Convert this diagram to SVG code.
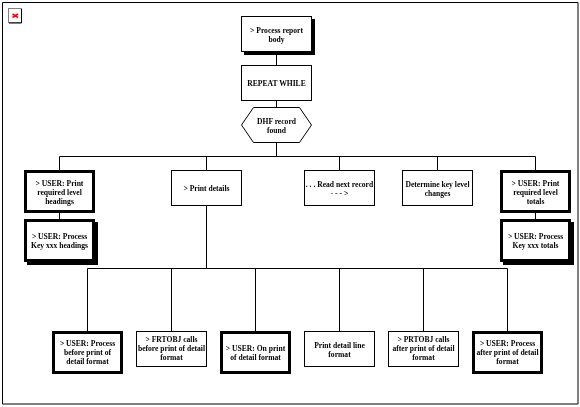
<svg xmlns="http://www.w3.org/2000/svg" width="580" height="407" viewBox="0 0 580 407">
<defs><filter id="soft" x="-5%" y="-30%" width="110%" height="160%" color-interpolation-filters="sRGB"><feGaussianBlur stdDeviation="0.35"/></filter></defs>
<style>
.b{fill:#fff;stroke:#000;stroke-width:1}
.h{fill:#fff;stroke:#000;stroke-width:3}
.s{fill:#000;stroke:none}
.c{fill:none;stroke:#000;stroke-width:1}
text{font-family:"Liberation Serif","Times New Roman",serif;font-size:7.6px;font-weight:bold;text-anchor:middle;fill:#000;filter:url(#soft)}
</style>
<rect width="580" height="407" fill="#fff"/>
<path id="frame" d="M2.5 404V2.5H578V404Z" class="c"/>
<g id="broken-image">
<rect x="8.5" y="8.5" width="13" height="14" fill="#fff" stroke="#808080"/>
<path d="M21.5 9V23H9" class="c"/>
<path d="M12.5 14L18 17.5M18 14L12.5 17.5" fill="none" stroke="#f00" stroke-width="1.6"/>
</g>
<g id="connectors">
<path class="c" d="M276.5 51V65M276.5 100V107M276.5 142V156.5M59.5 156.5H535.5M59.5 156.5V170M206.5 156.5V170M339.5 156.5V170M437.5 156.5V170M535.5 156.5V170M59.5 212V219M535.5 212V219M206.5 205V268.5M87.5 268.5H507.5M87.5 268.5V331M171.5 268.5V331M255.5 268.5V331M339.5 268.5V331M423.5 268.5V331M507.5 268.5V331"/>
</g>
<g id="n1"><rect class="s" x="244" y="19" width="71" height="36"/><rect class="b" x="241.5" y="16.5" width="70" height="35"/><text x="276.5" y="32.5">&gt; Process report</text><text x="276.5" y="41.5">body</text></g>
<g id="n2"><rect class="b" x="241.5" y="65.5" width="70" height="35"/><text x="276.5" y="86">REPEAT WHILE</text></g>
<g id="n3"><polygon class="b" points="253.5,107.5 299.5,107.5 311.5,125 299.5,142.5 253.5,142.5 241.5,125"/><text x="276.5" y="123.5">DHF record</text><text x="276.5" y="132.5">found</text></g>
<g id="n4"><rect class="h" x="25.5" y="171.5" width="68" height="40"/><text x="59.5" y="185.5">&gt; USER: Print</text><text x="59.5" y="194.5">required level</text><text x="59.5" y="203.5">headings</text></g>
<g id="n5"><rect class="s" x="27" y="222" width="71" height="43"/><rect class="h" x="25.5" y="220.5" width="68" height="40"/><text x="59.5" y="239">&gt; USER: Process</text><text x="59.5" y="248">Key xxx headings</text></g>
<g id="n6"><rect class="b" x="171.5" y="170.5" width="70" height="35"/><text x="206.5" y="190.5">&gt; Print details</text></g>
<g id="n7"><rect class="b" x="304.5" y="170.5" width="70" height="35"/><text x="339.5" y="187">. . . Read next record</text><text x="339.5" y="196">- - - &gt;</text></g>
<g id="n8"><rect class="b" x="402.5" y="170.5" width="70" height="35"/><text x="437.5" y="187">Determine key level</text><text x="437.5" y="196">changes</text></g>
<g id="n9"><rect class="h" x="501.5" y="171.5" width="68" height="40"/><text x="535.5" y="185.5">&gt; USER: Print</text><text x="535.5" y="194.5">required level</text><text x="535.5" y="203.5">totals</text></g>
<g id="n10"><rect class="s" x="503" y="222" width="71" height="43"/><rect class="h" x="501.5" y="220.5" width="68" height="40"/><text x="535.5" y="239">&gt; USER: Process</text><text x="535.5" y="248">Key xxx totals</text></g>
<g id="n11"><rect class="h" x="53.5" y="332.5" width="68" height="40"/><text x="87.5" y="346">&gt; USER: Process</text><text x="87.5" y="355">before print of</text><text x="87.5" y="364">detail format</text></g>
<g id="n12"><rect class="b" x="136.5" y="331.5" width="70" height="35"/><text x="171.5" y="342">&gt; FRTOBJ calls</text><text x="171.5" y="351">before print of detail</text><text x="171.5" y="360">format</text></g>
<g id="n13"><rect class="h" x="221.5" y="332.5" width="68" height="40"/><text x="255.5" y="350.5">&gt; USER: On print</text><text x="255.5" y="359.5">of detail format</text></g>
<g id="n14"><rect class="b" x="304.5" y="331.5" width="70" height="35"/><text x="339.5" y="347.5">Print detail line</text><text x="339.5" y="356.5">format</text></g>
<g id="n15"><rect class="b" x="388.5" y="331.5" width="70" height="35"/><text x="423.5" y="342">&gt; PRTOBJ calls</text><text x="423.5" y="351">after print of detail</text><text x="423.5" y="360">format</text></g>
<g id="n16"><rect class="h" x="473.5" y="332.5" width="68" height="40"/><text x="507.5" y="346">&gt; USER: Process</text><text x="507.5" y="355">after print of detail</text><text x="507.5" y="364">format</text></g>
</svg>
